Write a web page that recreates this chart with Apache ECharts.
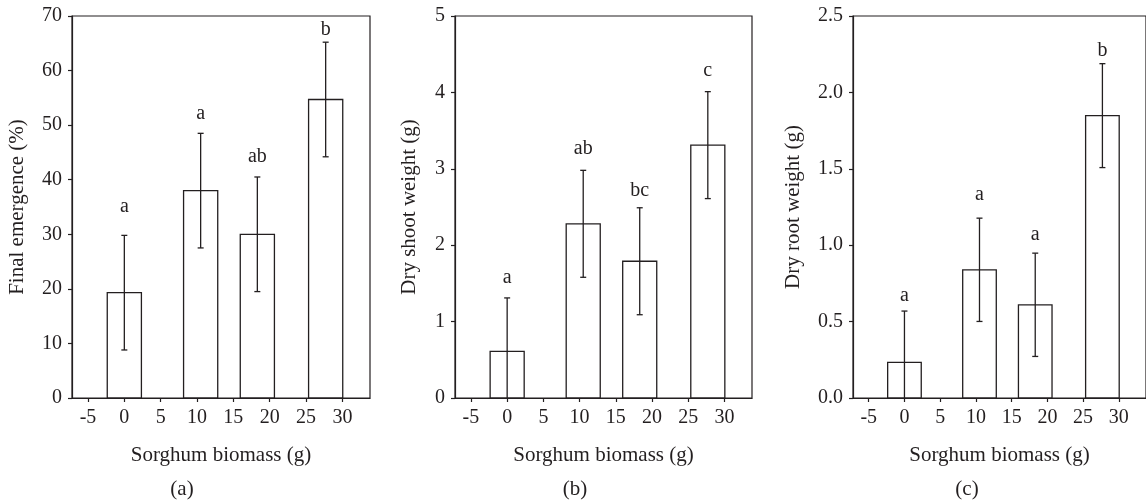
<!DOCTYPE html>
<html>
<head>
<meta charset="utf-8">
<script src="https://cdn.jsdelivr.net/npm/echarts@6/dist/echarts.min.js"></script>
<style>
  html, body { margin: 0; padding: 0; background: #ffffff; }
  #chart { width: 1146px; height: 504px; }
</style>
</head>
<body>
<div id="chart"></div>
<script>
// ---- data ----
const biomass = [0, 10.5, 18.3, 27.7];            // x positions (g)
const xTickLabels = [-5, 0, 5, 10, 15, 20, 25, 30];

const emergenceMean = [19.3, 38.0, 30.0, 54.7];
const emergenceErr = [10.5, 10.5, 10.5, 10.5];
const emergenceLetters = ['a', 'a', 'ab', 'b'];
const emergenceLetterY = [35.1, 52.0, 44.2, 67.5];

const shootMean = [0.61, 2.28, 1.79, 3.31];
const shootErr = [0.70, 0.70, 0.70, 0.70];
const shootLetters = ['a', 'ab', 'bc', 'c'];
const shootLetterY = [1.58, 3.26, 2.71, 4.28];

const rootMean = [0.233, 0.839, 0.61, 1.848];
const rootErr = [0.336, 0.338, 0.338, 0.340];
const rootLetters = ['a', 'a', 'a', 'b'];
const rootLetterY = [0.671, 1.33, 1.07, 2.27];

const yTitles = ['Final emergence (%)', 'Dry shoot weight (g)', 'Dry root weight (g)'];
const xTitle = 'Sorghum biomass (g)';
const captions = ['(a)', '(b)', '(c)'];

// ---- styling ----
const INK = '#231f20';
const FONT = '"Liberation Serif", "Times New Roman", serif';
const BAR_W = 4.7;   // bar width in data units of x
const CAP = 3;       // half width of error caps (px)

function buildData(means, errs, letterY) {
  return means.map((m, i) => [biomass[i], m, errs[i], letterY[i]]);
}

function makeRender(letters) {
  return function (params, api) {
    const i = params.dataIndex;
    const x = api.value(0), m = api.value(1), e = api.value(2), ly = api.value(3);
    const tl = api.coord([x - BAR_W / 2, m]);
    const br = api.coord([x + BAR_W / 2, 0]);
    const cx = api.coord([x, 0])[0];
    const top = api.coord([x, m + e])[1];
    const lowVal = m - e;
    const bot = api.coord([x, Math.max(0, lowVal)])[1];
    const children = [
      { type: 'rect', shape: { x: tl[0], y: tl[1], width: br[0] - tl[0], height: br[1] - tl[1] },
        style: { fill: '#ffffff', stroke: INK, lineWidth: 1.3 } },
      { type: 'line', shape: { x1: cx, y1: top, x2: cx, y2: bot }, style: { stroke: INK, lineWidth: 1.3 } },
      { type: 'line', shape: { x1: cx - CAP, y1: top, x2: cx + CAP, y2: top }, style: { stroke: INK, lineWidth: 1.3 } }
    ];
    if (lowVal > 0) {
      children.push({ type: 'line', shape: { x1: cx - CAP, y1: bot, x2: cx + CAP, y2: bot }, style: { stroke: INK, lineWidth: 1.3 } });
    }
    const lyPx = api.coord([x, ly])[1];
    children.push({ type: 'text', x: cx, y: lyPx,
      style: { text: letters[i], fill: INK, font: '20px ' + FONT, align: 'center', verticalAlign: 'middle' } });
    return { type: 'group', children: children };
  };
}

const grids = [
  { left: 72, top: 16, width: 298, height: 382 },
  { left: 455, top: 16, width: 297, height: 382 },
  { left: 853, top: 16, width: 298, height: 382 }
];
const yRanges = [
  { max: 70, interval: 10, fmt: v => String(v), gap: 44 },
  { max: 5, interval: 1, fmt: v => String(v), gap: 35 },
  { max: 2.5, interval: 0.5, fmt: v => v.toFixed(1), gap: 49 }
];

const option = {
  backgroundColor: '#ffffff',
  animation: false,
  textStyle: { fontFamily: FONT, color: INK },
  grid: grids.map(g => Object.assign({ show: true, borderColor: INK, borderWidth: 1.2, backgroundColor: 'transparent' }, g)),
  xAxis: grids.map((g, k) => ({
    gridIndex: k, type: 'value', min: -7.2, max: 33.8,
    name: xTitle, nameLocation: 'middle', nameGap: 47,
    nameTextStyle: { fontFamily: FONT, fontSize: 21, color: INK },
    axisLine: { show: true, onZero: false, lineStyle: { color: INK, width: 1.2 } },
    axisTick: { show: true, inside: false, length: 4, customValues: xTickLabels, lineStyle: { color: INK, width: 1.2 } },
    axisLabel: { customValues: xTickLabels, fontFamily: FONT, fontSize: 20, color: INK, margin: 10 },
    splitLine: { show: false }
  })),
  yAxis: grids.map((g, k) => ({
    gridIndex: k, type: 'value', min: 0, max: yRanges[k].max, interval: yRanges[k].interval,
    name: yTitles[k], nameLocation: 'middle', nameGap: yRanges[k].gap,
    nameTextStyle: { fontFamily: FONT, fontSize: 21, color: INK },
    axisLine: { show: true, onZero: false, lineStyle: { color: INK, width: 1.2 } },
    axisTick: { show: true, inside: false, length: 4, lineStyle: { color: INK, width: 1.2 } },
    axisLabel: { fontFamily: FONT, fontSize: 20, color: INK, margin: 10, formatter: yRanges[k].fmt },
    splitLine: { show: false }
  })),
  series: [
    { type: 'custom', xAxisIndex: 0, yAxisIndex: 0, clip: false,
      renderItem: makeRender(emergenceLetters), data: buildData(emergenceMean, emergenceErr, emergenceLetterY) },
    { type: 'custom', xAxisIndex: 1, yAxisIndex: 1, clip: false,
      renderItem: makeRender(shootLetters), data: buildData(shootMean, shootErr, shootLetterY) },
    { type: 'custom', xAxisIndex: 2, yAxisIndex: 2, clip: false,
      renderItem: makeRender(rootLetters), data: buildData(rootMean, rootErr, rootLetterY) }
  ],
  graphic: [
    { type: 'text', x: 182, y: 489, style: { text: captions[0], fill: INK, font: '21px ' + FONT, align: 'center', verticalAlign: 'middle' } },
    { type: 'text', x: 575, y: 489, style: { text: captions[1], fill: INK, font: '21px ' + FONT, align: 'center', verticalAlign: 'middle' } },
    { type: 'text', x: 967, y: 489, style: { text: captions[2], fill: INK, font: '21px ' + FONT, align: 'center', verticalAlign: 'middle' } }
  ]
};

const chart = echarts.init(document.getElementById('chart'), null, { renderer: 'canvas' });
chart.setOption(option);
</script>
</body>
</html>
